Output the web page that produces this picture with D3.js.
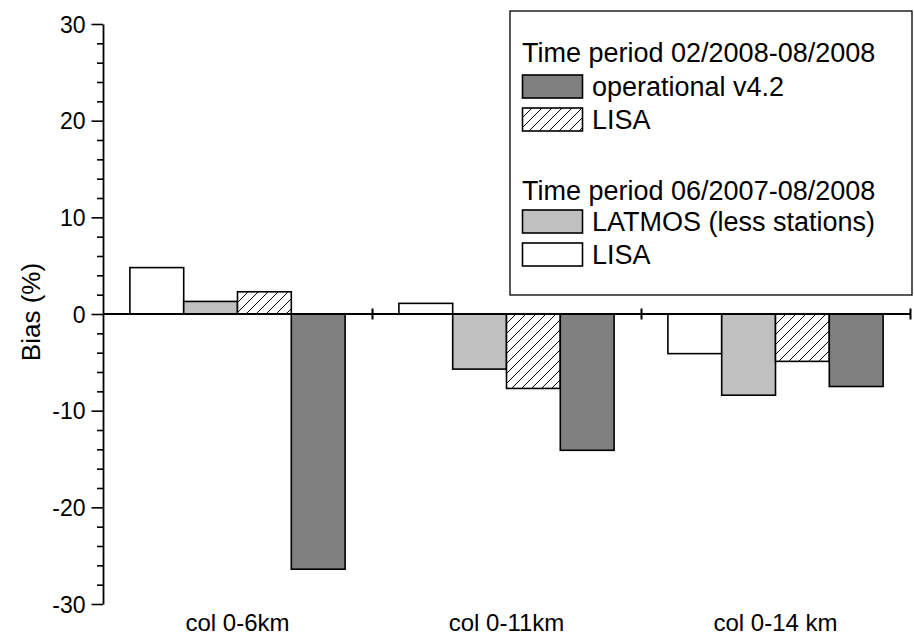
<!DOCTYPE html>
<html>
<head>
<meta charset="utf-8">
<script src="https://cdn.jsdelivr.net/npm/d3@7"></script>
<style>
  html, body { margin: 0; padding: 0; background: #fff; }
  svg { display: block; font-family: "Liberation Sans", Arial, Helvetica, sans-serif; }
</style>
</head>
<body>
<svg id="chart" width="914" height="640"></svg>
<script>
// ---- data ----
const categories = ["col 0-6km", "col 0-11km", "col 0-14 km"];
const seriesNames = ["LISA 06/2007-08/2008", "LATMOS (less stations)", "LISA 02/2008-08/2008", "operational v4.2"];
const lisa0607 = [4.8, 1.1, -4.1];
const latmos = [1.3, -5.7, -8.4];
const lisa0208 = [2.3, -7.7, -4.9];
const operational = [-26.4, -14.1, -7.5];
const yTicks = [-30, -20, -10, 0, 10, 20, 30];
const legendTitles = ["Time period 02/2008-08/2008", "Time period 06/2007-08/2008"];

const seriesValues = [lisa0607, latmos, lisa0208, operational];

// ---- layout ----
const svg = d3.select("#chart");
const plotL = 103, plotR = 910, plotT = 24, plotB = 604;

const y = d3.scaleLinear().domain([-30, 30]).range([plotB, plotT]);
const x = d3.scaleBand().domain(categories).range([plotL, plotR]).paddingInner(0).paddingOuter(0);
const xs = d3.scaleBand().domain(seriesNames).range([0, x.bandwidth()]).paddingOuter(0.5).paddingInner(0);
const xBound = d3.scaleLinear().domain([0, categories.length]).range([plotL, plotR]);

const fills = {
  "LISA 06/2007-08/2008": "#ffffff",
  "LATMOS (less stations)": "#c0c0c0",
  "LISA 02/2008-08/2008": "url(#hatch)",
  "operational v4.2": "#808080"
};

// hatch pattern
const defs = svg.append("defs");
const pat = defs.append("pattern").attr("id", "hatch")
  .attr("patternUnits", "userSpaceOnUse").attr("width", 10).attr("height", 10);
pat.append("rect").attr("width", 10).attr("height", 10).attr("fill", "#fff");
pat.append("path").attr("d", "M-1,1 L1,-1 M0,10 L10,0 M9,11 L11,9")
  .attr("stroke", "#000").attr("stroke-width", 1);

// ---- bars ----
const barData = [];
categories.forEach((c, i) => {
  seriesNames.forEach((s, j) => barData.push({ cat: c, ser: s, val: seriesValues[j][i] }));
});
svg.append("g").selectAll("rect").data(barData).join("rect")
  .attr("x", d => x(d.cat) + xs(d.ser))
  .attr("width", xs.bandwidth())
  .attr("y", d => y(Math.max(0, d.val)))
  .attr("height", d => Math.abs(y(d.val) - y(0)))
  .attr("fill", d => fills[d.ser])
  .attr("stroke", "#000").attr("stroke-width", 1.6);

// ---- y axis ----
const minor = d3.range(-30, 31, 2).filter(v => v % 10 !== 0);
const gMinor = svg.append("g").attr("transform", `translate(${plotL},0)`)
  .call(d3.axisLeft(y).tickValues(minor).tickSize(6).tickSizeOuter(0).tickFormat(""));
gMinor.select(".domain").remove();
const gY = svg.append("g").attr("transform", `translate(${plotL},0)`)
  .call(d3.axisLeft(y).tickValues(yTicks).tickSize(11.5).tickSizeOuter(0).tickFormat(d => String(d)));
svg.selectAll("g .tick line").attr("stroke", "#000").attr("stroke-width", 1.6);
gY.select(".domain").attr("stroke", "#000").attr("stroke-width", 1.8);
gY.selectAll(".tick text")
  .attr("x", -17.5)
  .attr("dy", "0.36em")
  .attr("text-anchor", "end")
  .attr("font-size", 23).attr("fill", "#000")
  .attr("font-family", "Liberation Sans, Arial, sans-serif");

// ---- x axis (at zero) ----
svg.append("line").attr("x1", plotL).attr("x2", plotR + 1).attr("y1", y(0)).attr("y2", y(0))
  .attr("stroke", "#000").attr("stroke-width", 1.8);
const gX = svg.append("g").attr("transform", `translate(0,${y(0) - 5.5})`)
  .call(d3.axisBottom(xBound).tickValues(d3.range(1, categories.length + 1)).tickSize(11).tickSizeOuter(0).tickFormat(""));
gX.select(".domain").remove();
gX.selectAll(".tick line").attr("stroke", "#000").attr("stroke-width", 2);

// category labels
svg.append("g").selectAll("text").data(categories).join("text")
  .attr("x", d => x(d) + x.bandwidth() / 2).attr("y", 631)
  .attr("text-anchor", "middle").attr("font-size", 24).attr("fill", "#000")
  .text(d => d);

// y title
svg.append("text")
  .attr("transform", `translate(40,312) rotate(-90)`)
  .attr("text-anchor", "middle").attr("font-size", 26).attr("fill", "#000")
  .text("Bias (%)");

// ---- legend ----
const lg = svg.append("g");
lg.append("rect").attr("x", 510).attr("y", 11).attr("width", 402).attr("height", 284)
  .attr("fill", "#fff").attr("stroke", "#000").attr("stroke-width", 1.3);

const legendRows = [
  { type: "title", text: legendTitles[0], y: 62 },
  { type: "item", ser: "operational v4.2", text: "operational v4.2", y: 75 },
  { type: "item", ser: "LISA 02/2008-08/2008", text: "LISA", y: 108 },
  { type: "title", text: legendTitles[1], y: 200 },
  { type: "item", ser: "LATMOS (less stations)", text: "LATMOS (less stations)", y: 210 },
  { type: "item", ser: "LISA 06/2007-08/2008", text: "LISA", y: 243 }
];
legendRows.forEach(r => {
  if (r.type === "title") {
    lg.append("text").attr("x", 522).attr("y", r.y)
      .attr("font-size", 27).attr("fill", "#000").text(r.text);
  } else {
    lg.append("rect").attr("x", 522.5).attr("y", r.y).attr("width", 60).attr("height", 23)
      .attr("fill", fills[r.ser]).attr("stroke", "#000").attr("stroke-width", 1.6);
    lg.append("text").attr("x", 592).attr("y", r.y + 21)
      .attr("font-size", 27).attr("fill", "#000").text(r.text);
  }
});
</script>
</body>
</html>
